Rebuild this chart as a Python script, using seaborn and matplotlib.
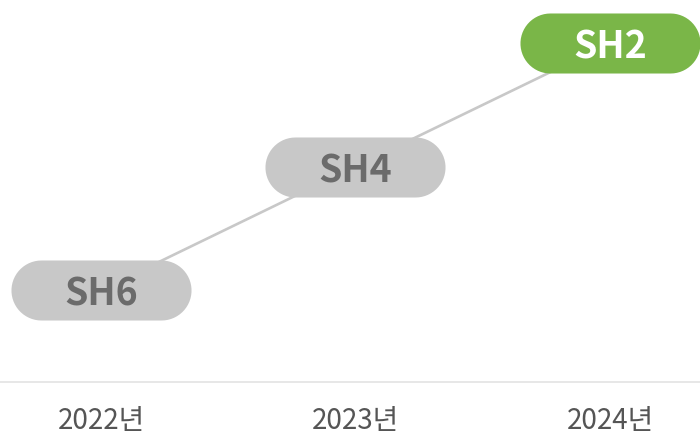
import numpy as np
import pandas as pd
import seaborn as sns
import matplotlib.pyplot as plt
from matplotlib.path import Path

years = ['2022년', '2023년', '2024년']
ranks = [6, 4, 2]
labels = ['SH6', 'SH4', 'SH2']
highlight = [False, False, True]

df = pd.DataFrame({'year': years, 'rank': ranks, 'label': labels, 'hl': highlight})
df['x'] = np.arange(len(df))

sns.set_style('white')
plt.rcParams['font.family'] = ['Noto Sans CJK KR', 'DejaVu Sans']

# stadium (pill) marker, 3:1
t = np.linspace(-np.pi / 2, np.pi / 2, 30)
r = 1.0
right = np.column_stack([2 + r * np.cos(t), r * np.sin(t)])
left = np.column_stack([-2 - r * np.cos(t), -r * np.sin(t)])
verts = np.vstack([right, left, right[:1]])
pill = Path(verts, closed=True)

fig = plt.figure(figsize=(7, 4.36), dpi=100)
ax = fig.add_axes([0, 54 / 436, 1, 382 / 436])

sns.lineplot(data=df, x='x', y='rank', color='#c8c8c8', linewidth=1.9, ax=ax, zorder=1)

gray = df[~df['hl']]
green = df[df['hl']]
msize = (180 * 0.72) ** 2
sns.scatterplot(data=gray, x='x', y='rank', marker=pill, s=msize, color='#c8c8c8',
                linewidth=0, ax=ax, zorder=2)
sns.scatterplot(data=green, x='x', y='rank', marker=pill, s=msize, color='#7ab648',
                linewidth=0, ax=ax, zorder=2)

for _, row in df.iterrows():
    ax.text(row['x'], row['rank'], row['label'], ha='center', va='center_baseline',
            fontsize=27, fontweight='bold',
            color='white' if row['hl'] else '#6b6b6b', zorder=3)

ax.set_xlim(-0.397, 2.354)
ax.set_ylim(7.49, 1.30)
ax.set_xticks(df['x'])
ax.set_xticklabels(years, fontsize=20, color='#555555')
ax.set_yticks([])
ax.set_xlabel('')
ax.set_ylabel('')
ax.tick_params(axis='x', length=0, pad=17)
for s in ['top', 'left', 'right']:
    ax.spines[s].set_visible(False)
ax.spines['bottom'].set_color('#e3e3e3')
ax.spines['bottom'].set_linewidth(1.2)

fig.savefig('out.png', dpi=100)
